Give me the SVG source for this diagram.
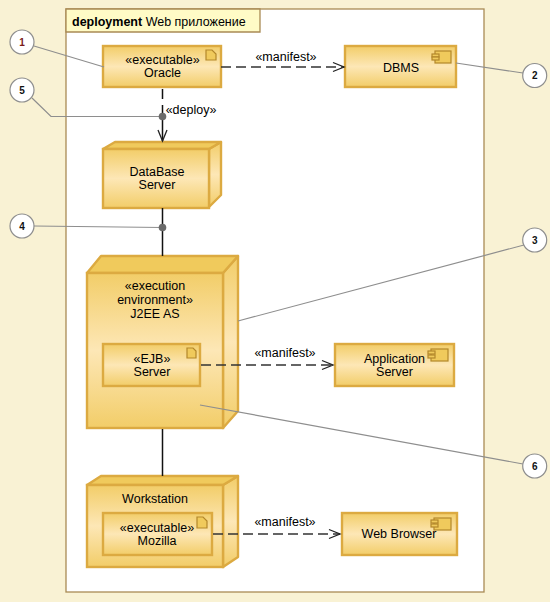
<svg xmlns="http://www.w3.org/2000/svg" width="550" height="602" viewBox="0 0 550 602">
<defs>
<linearGradient id="g" x1="0" y1="0" x2="0" y2="1"><stop offset="0" stop-color="#f2cd68"/><stop offset="0.5" stop-color="#fde7b6"/><stop offset="1" stop-color="#f2cd68"/></linearGradient>
<marker id="open" markerUnits="userSpaceOnUse" markerWidth="14" markerHeight="14" refX="12" refY="7" orient="auto"><path d="M1 2.500L12 7L1 11.500" fill="none" stroke="#222" stroke-width="1.3"/></marker>
</defs>
<style>
text{font-family:"Liberation Sans",Arial,sans-serif;font-size:12.5px;fill:#000;text-anchor:middle}
.box,.face{fill:url(#g);stroke:#dcaa41;stroke-width:2.4}
.sideg{fill:url(#g);stroke:#dcaa41;stroke-width:2.4;stroke-linejoin:round}
.top{fill:#f0ca5c;stroke:#dcaa41;stroke-width:2.4;stroke-linejoin:round}
.icon{fill:#f0ca5c;stroke:#b3872a;stroke-width:1.2}
.lead{fill:none;stroke:#8e8e8e;stroke-width:1.2}
.bub{fill:#fff;stroke:#8e8e8e;stroke-width:1.2}
.num{font-size:10px;font-weight:bold;fill:#111}
.dash{fill:none;stroke:#333;stroke-width:1.5;stroke-dasharray:10 5;marker-end:url(#open)}
.solid{fill:none;stroke:#111;stroke-width:1.5}
.dot{fill:#6a6a6a}
</style>
<rect width="550" height="602" fill="#f9f2d4"/>
<g id="frame">
<rect x="66" y="9" width="418" height="583" fill="#fff" stroke="#a98a55" stroke-width="1.3"/>
<path d="M66 9H260V32H66Z" fill="#fffbc6" stroke="#a98a55" stroke-width="1.3"/>
<text x="72" y="26" style="text-anchor:start"><tspan font-weight="bold">deployment</tspan> Web приложение</text>
</g>
<g id="oracle">
<rect class="box" x="103" y="46" width="118" height="41"/>
<path class="icon" d="M206 50H212L216 54V60H206Z"/>
<text x="162.500" y="64">«executable»</text><text x="162.500" y="77">Oracle</text>
</g>
<g id="dbms">
<rect class="box" x="345" y="46" width="111" height="41"/>
<rect class="icon" x="435" y="51" width="16" height="12"/><rect class="icon" x="432" y="54" width="7" height="3"/><rect class="icon" x="432" y="57" width="7" height="3"/>
<text x="401" y="72">DBMS</text>
</g>
<g id="database-server">
<path class="sideg" d="M209 149L221 142V195L209 207Z"/>
<path class="top" d="M103 149L115 142H221L209 149Z"/>
<rect class="face" x="103" y="149" width="106" height="59"/>
<text x="157" y="176">DataBase</text><text x="157" y="189">Server</text>
</g>
<g id="j2ee-as">
<path class="sideg" d="M223 273L238 256V411L223 428Z"/>
<path class="top" d="M87 273L101 256H238L223 273Z"/>
<rect class="face" x="87" y="273" width="136" height="155"/>
<text x="155" y="290">«execution</text><text x="155" y="304">environment»</text><text x="155" y="318">J2EE AS</text>
</g>
<g id="ejb-server">
<rect class="box" x="103" y="344" width="97" height="42"/>
<path class="icon" d="M187 348H193L196 351V358H187Z"/>
<text x="152" y="363">«EJB»</text><text x="152" y="376">Server</text>
</g>
<g id="application-server">
<rect class="box" x="335" y="344" width="119" height="42"/>
<rect class="icon" x="431" y="349" width="17" height="12"/><rect class="icon" x="428" y="351" width="7" height="3"/><rect class="icon" x="428" y="355" width="7" height="3"/>
<text x="394.500" y="363">Application</text><text x="394.500" y="376">Server</text>
</g>
<g id="workstation">
<path class="sideg" d="M223 485L238 476V557L223 567Z"/>
<path class="top" d="M87 485L101 476H238L223 485Z"/>
<rect class="face" x="87" y="485" width="136" height="82"/>
<text x="155" y="503">Workstation</text>
</g>
<g id="mozilla">
<rect class="box" x="103" y="513" width="109" height="42"/>
<path class="icon" d="M197 517H203L207 521V528H197Z"/>
<text x="157" y="532">«executable»</text><text x="157" y="545">Mozilla</text>
</g>
<g id="web-browser">
<rect class="box" x="342" y="513" width="115" height="42"/>
<rect class="icon" x="434" y="518" width="17" height="12"/><rect class="icon" x="431" y="520" width="7" height="3"/><rect class="icon" x="431" y="524" width="7" height="3"/>
<text x="399" y="538">Web Browser</text>
</g>
<g id="connectors">
<path class="dash" d="M221 67H344"/>
<path class="dash" d="M162.500 89V141" style="stroke:#111;stroke-dasharray:10 6 40"/>
<path class="solid" d="M162.500 208V256M162.500 429V476"/>
<path class="dash" d="M201 365H333"/>
<path class="dash" d="M213 534H340"/>
<text x="286" y="61">«manifest»</text>
<text x="191" y="114">«deploy»</text>
<text x="285" y="357">«manifest»</text>
<text x="285" y="526">«manifest»</text>
</g>
<g id="callouts">
<path class="lead" d="M34 46L104 67"/>
<path class="lead" d="M32 98L51 116.500H162"/>
<path class="lead" d="M34 226L162 227.500"/>
<path class="lead" d="M456 63L523 73"/>
<path class="lead" d="M238 321L524 245"/>
<path class="lead" d="M200 405L523 464"/>
<circle class="dot" cx="162.500" cy="116.500" r="3.800"/>
<circle class="dot" cx="162.500" cy="227.500" r="3.800"/>
<g id="note-1"><circle class="bub" cx="22" cy="42" r="12"/><text class="num" x="22" y="45.500" style="fill:#7a1a1a">1</text></g>
<g id="note-2"><circle class="bub" cx="534.700" cy="75.500" r="12"/><text class="num" x="534.700" y="79">2</text></g>
<g id="note-3"><circle class="bub" cx="534.700" cy="240" r="12"/><text class="num" x="534.700" y="243.500">3</text></g>
<g id="note-4"><circle class="bub" cx="22" cy="226" r="12"/><text class="num" x="22" y="229.500">4</text></g>
<g id="note-5"><circle class="bub" cx="22" cy="90" r="12"/><text class="num" x="22" y="93.500">5</text></g>
<g id="note-6"><circle class="bub" cx="534.700" cy="466" r="12"/><text class="num" x="534.700" y="469.500">6</text></g>
</g>
</svg>
